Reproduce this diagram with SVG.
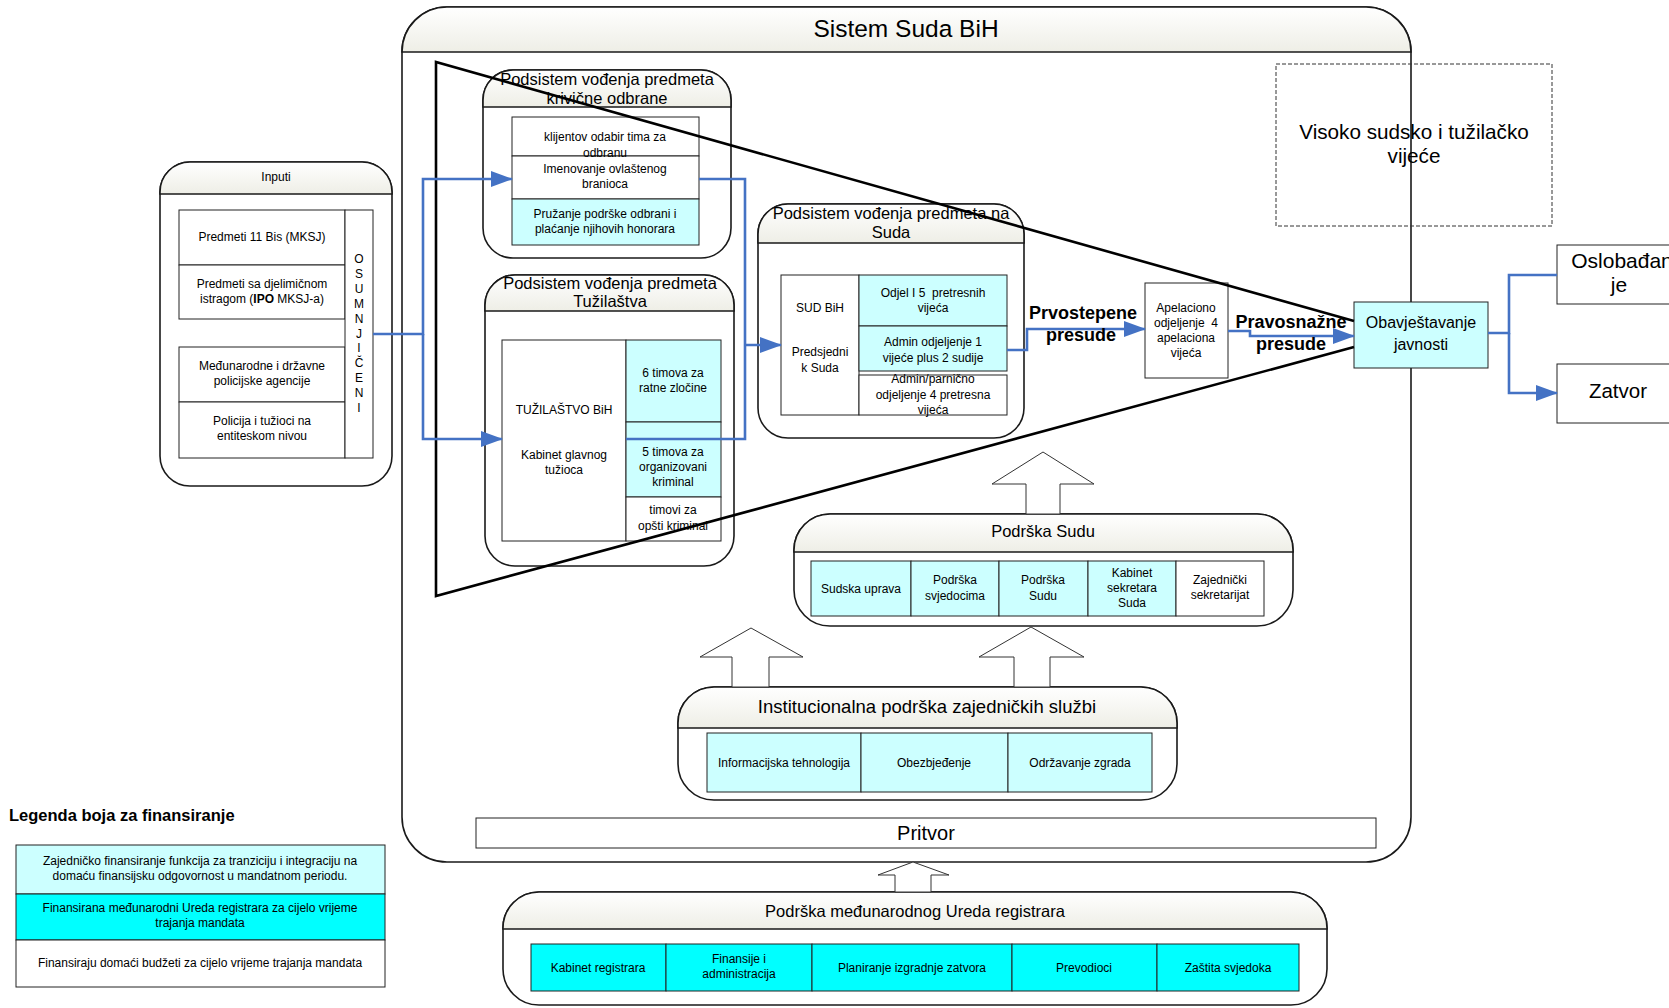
<svg xmlns="http://www.w3.org/2000/svg" width="1669" height="1008" viewBox="0 0 1669 1008">
<defs>
<linearGradient id="hg" x1="0" y1="0" x2="0" y2="1">
<stop offset="0" stop-color="#ffffff"/>
<stop offset="1" stop-color="#eeeee6"/>
</linearGradient>
<marker id="ah" markerUnits="userSpaceOnUse" markerWidth="22" markerHeight="16" refX="21" refY="8" orient="auto">
<path d="M0,0 L22,8 L0,16 Z" fill="#4472C4"/>
</marker>
</defs>
<style>
text{font-family:"Liberation Sans",Arial,sans-serif;fill:#000;text-anchor:middle}
.bx{fill:#fff;stroke:#1a1a1a;stroke-width:1.6}
.hd{fill:url(#hg);stroke:#1a1a1a;stroke-width:1.6}
.c{stroke:#222;stroke-width:1;fill:#fff}
.lc{stroke:#222;stroke-width:1;fill:#ccffff}
.dc{stroke:#222;stroke-width:1;fill:#00ffff}
.t12{font-size:12px}
.t16{font-size:16.5px}
.blk{fill:#fff;stroke:#333;stroke-width:1}
.con{fill:none;stroke:#4472C4;stroke-width:2.6}
.fun{fill:none;stroke:#000;stroke-width:2.6}
.b17{font-size:18px;font-weight:bold}
</style>
<rect width="1669" height="1008" fill="#fff"/>

<g id="sistem">
<rect class="bx" x="402" y="7" width="1009" height="855" rx="45"/>
<path class="hd" d="M402,52 A45,45 0 0 1 447,7 H1366 A45,45 0 0 1 1411,52 Z"/>
<text x="906" y="37" style="font-size:24.5px">Sistem Suda BiH</text>
</g>

<g id="visoko">
<rect x="1276" y="64" width="276" height="162" fill="none" stroke="#333" stroke-width="1" stroke-dasharray="4,2"/>
<text x="1414" y="139" style="font-size:20.7px">Visoko sudsko i tužilačko</text>
<text x="1414" y="163" style="font-size:20.7px">vijeće</text>
</g>

<g id="inputi">
<rect class="bx" x="160" y="162" width="232" height="324" rx="30"/>
<path class="hd" d="M160,194 V192 A30,30 0 0 1 190,162 H362 A30,30 0 0 1 392,192 V194 Z"/>
<text x="276" y="181" class="t12">Inputi</text>
<rect class="c" x="179" y="210" width="166" height="55"/>
<rect class="c" x="179" y="265" width="166" height="54"/>
<rect class="c" x="179" y="347" width="166" height="55"/>
<rect class="c" x="179" y="402" width="166" height="56"/>
<rect class="c" x="345" y="210" width="28" height="248"/>
<text x="262" y="241" class="t12">Predmeti 11 Bis (MKSJ)</text>
<text x="262" y="288" class="t12">Predmeti sa djelimičnom</text>
<text x="262" y="303" class="t12">istragom (<tspan font-weight="bold">IPO</tspan> MKSJ-a)</text>
<text x="262" y="370" class="t12">Međunarodne i državne</text>
<text x="262" y="385" class="t12">policijske agencije</text>
<text x="262" y="425" class="t12">Policija i tužioci na</text>
<text x="262" y="440" class="t12">entiteskom nivou</text>
<text x="359" y="263" class="t12">O</text>
<text x="359" y="278" class="t12">S</text>
<text x="359" y="293" class="t12">U</text>
<text x="359" y="308" class="t12">M</text>
<text x="359" y="323" class="t12">N</text>
<text x="359" y="338" class="t12">J</text>
<text x="359" y="352" class="t12">I</text>
<text x="359" y="367" class="t12">Č</text>
<text x="359" y="382" class="t12">E</text>
<text x="359" y="397" class="t12">N</text>
<text x="359" y="412" class="t12">I</text>
</g>

<g id="odbrana">
<rect class="bx" x="483" y="70" width="248" height="188" rx="30"/>
<path class="hd" d="M483,107 V100 A30,30 0 0 1 513,70 H701 A30,30 0 0 1 731,100 V107 Z"/>
<text x="607" y="85" class="t16">Podsistem vođenja predmeta</text>
<text x="607" y="104" class="t16">krivične odbrane</text>
<rect class="c" x="512" y="117" width="187" height="39"/>
<rect class="c" x="512" y="156" width="187" height="43"/>
<rect class="lc" x="512" y="199" width="187" height="46"/>
<text x="605" y="141" class="t12">klijentov odabir tima za</text>
<text x="605" y="157" class="t12">odbranu</text>
<text x="605" y="173" class="t12">Imenovanje ovlaštenog</text>
<text x="605" y="188" class="t12">branioca</text>
<text x="605" y="218" class="t12">Pružanje podrške odbrani i</text>
<text x="605" y="233" class="t12">plaćanje njihovih honorara</text>
</g>

<g id="tuzilastvo">
<rect class="bx" x="485" y="275" width="249" height="291" rx="30"/>
<path class="hd" d="M485,311 V305 A30,30 0 0 1 515,275 H704 A30,30 0 0 1 734,305 V311 Z"/>
<text x="610" y="289" class="t16">Podsistem vođenja predmeta</text>
<text x="610" y="307" class="t16">Tužilaštva</text>
<rect class="c" x="502" y="340" width="124" height="201"/>
<rect class="lc" x="626" y="340" width="95" height="82"/>
<rect class="lc" x="626" y="422" width="95" height="75"/>
<rect class="c" x="626" y="497" width="95" height="44"/>
<text x="564" y="414" class="t12">TUŽILAŠTVO BiH</text>
<text x="564" y="459" class="t12">Kabinet glavnog</text>
<text x="564" y="474" class="t12">tužioca</text>
<text x="673" y="377" class="t12">6 timova za</text>
<text x="673" y="392" class="t12">ratne zločine</text>
<text x="673" y="456" class="t12">5 timova za</text>
<text x="673" y="471" class="t12">organizovani</text>
<text x="673" y="486" class="t12">kriminal</text>
<text x="673" y="514" class="t12">timovi za</text>
<text x="673" y="530" class="t12">opšti kriminal</text>
</g>

<g id="sud">
<rect class="bx" x="758" y="204" width="266" height="234" rx="30"/>
<path class="hd" d="M758,243 V234 A30,30 0 0 1 788,204 H994 A30,30 0 0 1 1024,234 V243 Z"/>
<text x="891" y="219" class="t16">Podsistem vođenja predmeta na</text>
<text x="891" y="238" class="t16">Suda</text>
<rect class="c" x="781" y="275" width="78" height="140"/>
<rect class="lc" x="859" y="275" width="148" height="51"/>
<rect class="lc" x="859" y="326" width="148" height="45"/>
<rect class="c" x="859" y="375" width="148" height="40"/>
<text x="820" y="312" class="t12">SUD BiH</text>
<text x="820" y="356" class="t12">Predsjedni</text>
<text x="820" y="372" class="t12">k Suda</text>
<text x="933" y="297" class="t12" xml:space="preserve">Odjel I 5  pretresnih</text>
<text x="933" y="312" class="t12">vijeća</text>
<text x="933" y="346" class="t12">Admin odjeljenje 1</text>
<text x="933" y="362" class="t12">vijeće plus 2 sudije</text>
<text x="933" y="383" class="t12">Admin/parnično</text>
<text x="933" y="399" class="t12">odjeljenje 4 pretresna</text>
<text x="933" y="414" class="t12">vijeća</text>
</g>

<g id="apelaciono">
<rect class="c" x="1145" y="283" width="83" height="95"/>
<text x="1186" y="312" class="t12">Apelaciono</text>
<text x="1186" y="327" class="t12" xml:space="preserve">odjeljenje  4</text>
<text x="1186" y="342" class="t12">apelaciona</text>
<text x="1186" y="357" class="t12">vijeća</text>
</g>

<g id="obavjestavanje">
<rect class="lc" x="1354" y="302" width="134" height="66"/>
<text x="1421" y="328" style="font-size:16px">Obavještavanje</text>
<text x="1421" y="350" style="font-size:16px">javnosti</text>
</g>

<g id="oslobadjanje">
<rect class="c" x="1557" y="245" width="140" height="59"/>
<text x="1622" y="268" style="font-size:21px">Oslobađan</text>
<text x="1619" y="292" style="font-size:21px">je</text>
</g>

<g id="zatvor">
<rect class="c" x="1557" y="364" width="140" height="59"/>
<text x="1618" y="398" style="font-size:20.5px">Zatvor</text>
</g>

<g id="podrska-sudu">
<rect class="bx" x="794" y="514" width="499" height="112" rx="36"/>
<path class="hd" d="M794,552 V550 A36,36 0 0 1 830,514 H1257 A36,36 0 0 1 1293,550 V552 Z"/>
<text x="1043" y="537" style="font-size:16.5px">Podrška Sudu</text>
<rect class="lc" x="811" y="561" width="100" height="55"/>
<rect class="lc" x="911" y="561" width="88" height="55"/>
<rect class="lc" x="999" y="561" width="89" height="55"/>
<rect class="lc" x="1088" y="561" width="88" height="55"/>
<rect class="c" x="1176" y="561" width="88" height="55"/>
<text x="861" y="593" class="t12">Sudska uprava</text>
<text x="955" y="584" class="t12">Podrška</text>
<text x="955" y="600" class="t12">svjedocima</text>
<text x="1043" y="584" class="t12">Podrška</text>
<text x="1043" y="600" class="t12">Sudu</text>
<text x="1132" y="577" class="t12">Kabinet</text>
<text x="1132" y="592" class="t12">sekretara</text>
<text x="1132" y="607" class="t12">Suda</text>
<text x="1220" y="584" class="t12">Zajednički</text>
<text x="1220" y="599" class="t12">sekretarijat</text>
</g>

<g id="institucionalna">
<rect class="bx" x="678" y="687" width="499" height="113" rx="36"/>
<path class="hd" d="M678,728 V723 A36,36 0 0 1 714,687 H1141 A36,36 0 0 1 1177,723 V728 Z"/>
<text x="927" y="713" style="font-size:18.5px">Institucionalna podrška zajedničkih službi</text>
<rect class="lc" x="707" y="733" width="154" height="59"/>
<rect class="lc" x="861" y="733" width="147" height="59"/>
<rect class="lc" x="1008" y="733" width="144" height="59"/>
<text x="784" y="767" class="t12">Informacijska tehnologija</text>
<text x="934" y="767" class="t12">Obezbjeđenje</text>
<text x="1080" y="767" class="t12">Održavanje zgrada</text>
</g>

<g id="pritvor">
<rect class="c" x="476" y="818" width="900" height="30"/>
<text x="926" y="840" style="font-size:20px">Pritvor</text>
</g>

<g id="registrar">
<rect class="bx" x="503" y="892" width="824" height="113" rx="36"/>
<path class="hd" d="M503,929 V928 A36,36 0 0 1 539,892 H1291 A36,36 0 0 1 1327,928 V929 Z"/>
<text x="915" y="917" style="font-size:16.5px">Podrška međunarodnog Ureda registrara</text>
<rect class="dc" x="531" y="944" width="135" height="47"/>
<rect class="dc" x="666" y="944" width="146" height="47"/>
<rect class="dc" x="812" y="944" width="200" height="47"/>
<rect class="dc" x="1012" y="944" width="145" height="47"/>
<rect class="dc" x="1157" y="944" width="142" height="47"/>
<text x="598" y="972" class="t12">Kabinet registrara</text>
<text x="739" y="963" class="t12">Finansije i</text>
<text x="739" y="978" class="t12">administracija</text>
<text x="912" y="972" class="t12">Planiranje izgradnje zatvora</text>
<text x="1084" y="972" class="t12">Prevodioci</text>
<text x="1228" y="972" class="t12">Zaštita svjedoka</text>
</g>

<g id="block-arrows">
<polygon class="blk" points="1026,514 1026,484 992,484 1043,452 1094,484 1060,484 1060,514"/>
<polygon class="blk" points="732,687 732,657 700,657 751,628 803,657 769,657 769,687"/>
<polygon class="blk" points="1014,687 1014,657 979,657 1031,627 1084,657 1050,657 1050,687"/>
<polygon class="blk" points="895,892 895,875 878,875 913,862 949,875 931,875 931,892"/>
</g>

<g id="legenda">
<text x="9" y="821" style="font-size:16.5px;font-weight:bold;text-anchor:start">Legenda boja za finansiranje</text>
<rect class="lc" x="16" y="845" width="369" height="49"/>
<rect class="dc" x="16" y="894" width="369" height="46"/>
<rect class="c" x="16" y="940" width="369" height="47"/>
<text x="200" y="865" class="t12">Zajedničko finansiranje funkcija za tranziciju i integraciju na</text>
<text x="200" y="880" class="t12">domaću finansijsku odgovornost u mandatnom periodu.</text>
<text x="200" y="912" class="t12">Finansirana međunarodni Ureda registrara za cijelo vrijeme</text>
<text x="200" y="927" class="t12">trajanja mandata</text>
<text x="200" y="967" class="t12">Finansiraju domaći budžeti za cijelo vrijeme trajanja mandata</text>
</g>

<g id="connectors">
<polyline class="fun" points="1354,321 436,62 436,596 1354,347"/>
<path class="con" d="M373,334 H423 V179 H512" marker-end="url(#ah)"/>
<path class="con" d="M423,334 V439 H502" marker-end="url(#ah)"/>
<path class="con" d="M699,179 H745 V439 H626"/>
<path class="con" d="M745,345 H781" marker-end="url(#ah)"/>
<path class="con" d="M1007,350 H1027 V329 H1145" marker-end="url(#ah)"/>
<path class="con" d="M1228,331 H1250 V336 H1354" marker-end="url(#ah)"/>
<path class="con" d="M1488,333 H1509 V275 H1557"/>
<path class="con" d="M1509,333 V393 H1557" marker-end="url(#ah)"/>
<text x="1083" y="319" class="b17">Prvostepene</text>
<text x="1081" y="341" class="b17">presude</text>
<text x="1291" y="328" class="b17">Pravosnažne</text>
<text x="1291" y="350" class="b17">presude</text>
</g>
</svg>
